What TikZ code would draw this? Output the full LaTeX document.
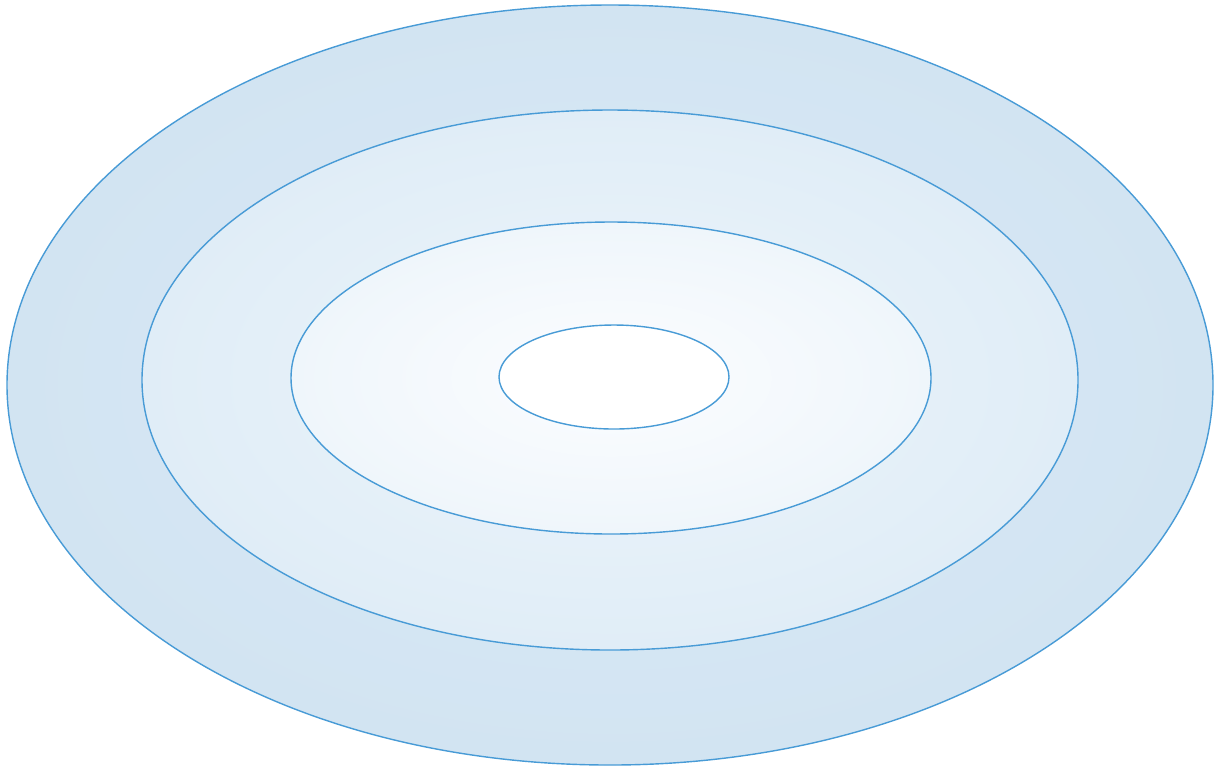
\documentclass[tikz,border=0pt]{standalone}
\usepackage{tikz}

\definecolor{ringline}{RGB}{72,155,214}
\definecolor{ringA}{RGB}{210,228,242}
\definecolor{ringAin}{RGB}{218,234,246}
\definecolor{ringB}{RGB}{224,237,247}
\definecolor{ringBin}{RGB}{237,245,251}
\definecolor{ringC}{RGB}{239,246,251}
\definecolor{ringCin}{RGB}{252,253,255}

\tikzset{ring/.style={draw=ringline, line width=0.8pt}}

\begin{document}
\begin{tikzpicture}[x=0.02cm, y=-0.02cm]
    % MARGES
    \useasboundingbox (0,0) rectangle (1216,769);

    % ANELL EXTERIOR
    \shade[inner color=ringAin, outer color=ringA] (610,385) ellipse [x radius=603, y radius=380];
    \draw[ring] (610,385) ellipse [x radius=603, y radius=380];

    % SEGON ANELL
    \shade[inner color=ringBin, outer color=ringB] (610,380) ellipse [x radius=468, y radius=270];
    \draw[ring] (610,380) ellipse [x radius=468, y radius=270];

    % TERCER ANELL
    \shade[inner color=ringCin, outer color=ringC] (611,378) ellipse [x radius=320, y radius=156];
    \draw[ring] (611,378) ellipse [x radius=320, y radius=156];

    % NUCLI
    \draw[ring, fill=white] (614,377) ellipse [x radius=115, y radius=52];
\end{tikzpicture}
\end{document}
